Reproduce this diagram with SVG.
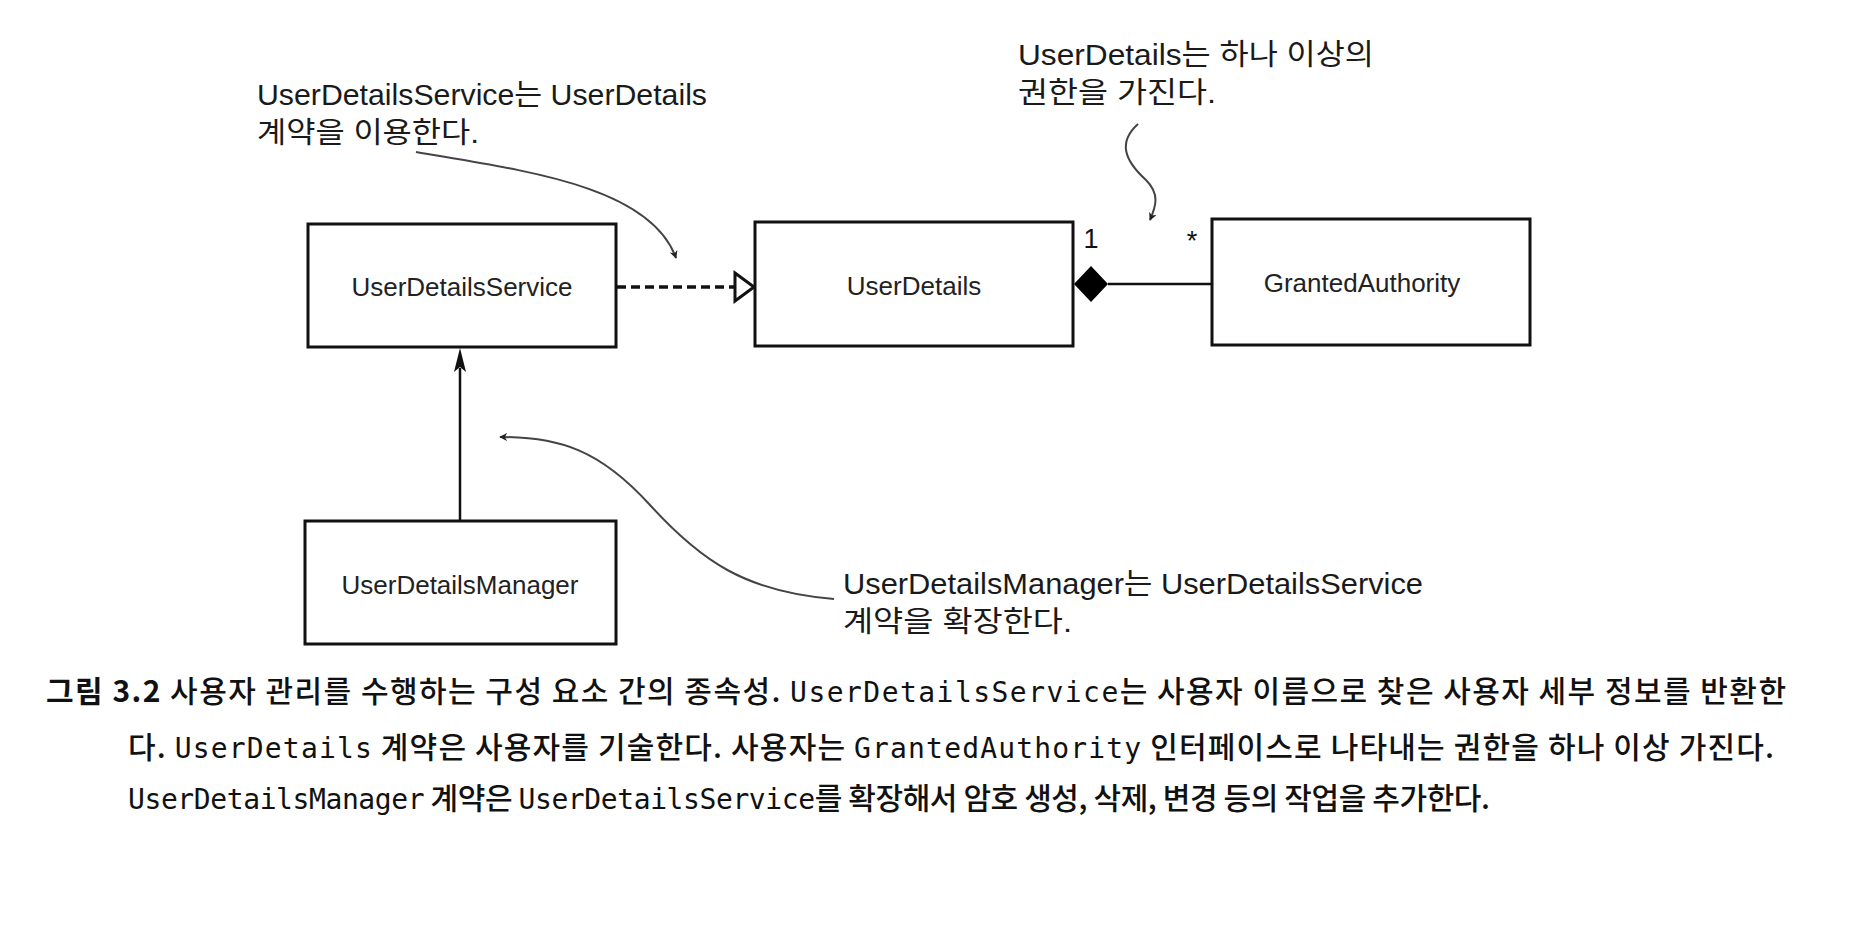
<svg xmlns="http://www.w3.org/2000/svg" width="1864" height="929" viewBox="0 0 1864 929">
<style>
.box{fill:#fff;stroke:#111;stroke-width:3}
.lbl{font-family:"Liberation Sans","Noto Sans CJK KR",sans-serif;font-size:26px;fill:#222;text-anchor:middle}
.ann{font-family:"Liberation Sans","Noto Sans CJK KR",sans-serif;font-size:29px;fill:#1a1a1a}
.cap{font-family:"Noto Sans CJK KR",sans-serif;font-size:30px;fill:#111;font-weight:500}
.mono{font-family:"DejaVu Sans Mono","Liberation Mono",monospace;font-weight:normal;font-size:28px}
.curve{fill:none;stroke:#444;stroke-width:2}
.line{fill:none;stroke:#111;stroke-width:2.5}
.dash{fill:none;stroke:#111;stroke-width:3.5;stroke-dasharray:9 5}
.mult{font-family:"Liberation Sans",sans-serif;font-size:27px;fill:#111;text-anchor:middle}
</style>
<defs>
<marker id="sharp" viewBox="0 0 10 10" refX="9" refY="5" markerWidth="8" markerHeight="8" orient="auto" markerUnits="userSpaceOnUse">
<path d="M0,0 L10,5 L0,10 L3,5 Z" fill="#222"/>
</marker>
</defs>
<rect width="1864" height="929" fill="#fff"/>

<g id="connectors">
<path class="dash" d="M617 287 L735 287"/>
<path d="M735 273 L754 287 L735 301 Z" fill="#fff" stroke="#111" stroke-width="3"/>
<path d="M1074 284 L1091 266 L1108 284 L1091 302 Z" fill="#000"/>
<path class="line" d="M1108 284 L1212 284"/>
<text class="mult" x="1091" y="248">1</text>
<text class="mult" x="1192" y="250">*</text>
<path class="line" d="M460 521 L460 368"/>
<path d="M460 348 L466 372 L460 367 L454 372 Z" fill="#111"/>
</g>

<g id="node-userdetailsservice">
<rect class="box" x="308" y="224" width="308" height="123"/>
<text class="lbl" x="462" y="296">UserDetailsService</text>
</g>
<g id="node-userdetails">
<rect class="box" x="755" y="222" width="318" height="124"/>
<text class="lbl" x="914" y="295">UserDetails</text>
</g>
<g id="node-grantedauthority">
<rect class="box" x="1212" y="219" width="318" height="126"/>
<text class="lbl" x="1362" y="292">GrantedAuthority</text>
</g>
<g id="node-userdetailsmanager">
<rect class="box" x="305" y="521" width="311" height="123"/>
<text class="lbl" x="460" y="594">UserDetailsManager</text>
</g>

<g id="annotations">
<text class="ann" x="257" y="105" textLength="450" lengthAdjust="spacingAndGlyphs">UserDetailsService는 UserDetails</text>
<text class="ann" x="257" y="143" textLength="222" lengthAdjust="spacingAndGlyphs">계약을 이용한다.</text>
<path class="curve" d="M416 152 C520 170 650 185 676 258" marker-end="url(#sharp)"/>
<text class="ann" x="1018" y="65" textLength="356" lengthAdjust="spacingAndGlyphs">UserDetails는 하나 이상의</text>
<text class="ann" x="1018" y="103" textLength="198" lengthAdjust="spacingAndGlyphs">권한을 가진다.</text>
<path class="curve" d="M1138 124 C1118 142 1124 160 1146 180 C1160 194 1156 206 1150 220" marker-end="url(#sharp)"/>
<text class="ann" x="843" y="594" textLength="580" lengthAdjust="spacingAndGlyphs">UserDetailsManager는 UserDetailsService</text>
<text class="ann" x="843" y="632" textLength="229" lengthAdjust="spacingAndGlyphs">계약을 확장한다.</text>
<path class="curve" d="M834 599 C745 592 700 560 650 505 C600 450 560 437 500 437" marker-end="url(#sharp)"/>
</g>

<g id="caption">
<text class="cap" x="46" y="702" textLength="1740" lengthAdjust="spacing"><tspan font-weight="bold">그림 3.2</tspan> 사용자 관리를 수행하는 구성 요소 간의 종속성. <tspan class="mono">UserDetailsService</tspan>는 사용자 이름으로 찾은 사용자 세부 정보를 반환한</text>
<text class="cap" x="128" y="758" textLength="1646" lengthAdjust="spacing">다. <tspan class="mono">UserDetails</tspan> 계약은 사용자를 기술한다. 사용자는 <tspan class="mono">GrantedAuthority</tspan> 인터페이스로 나타내는 권한을 하나 이상 가진다.</text>
<text class="cap" x="128" y="809" textLength="1362" lengthAdjust="spacing"><tspan class="mono">UserDetailsManager</tspan> 계약은 <tspan class="mono">UserDetailsService</tspan>를 확장해서 암호 생성, 삭제, 변경 등의 작업을 추가한다.</text>
</g>
</svg>
